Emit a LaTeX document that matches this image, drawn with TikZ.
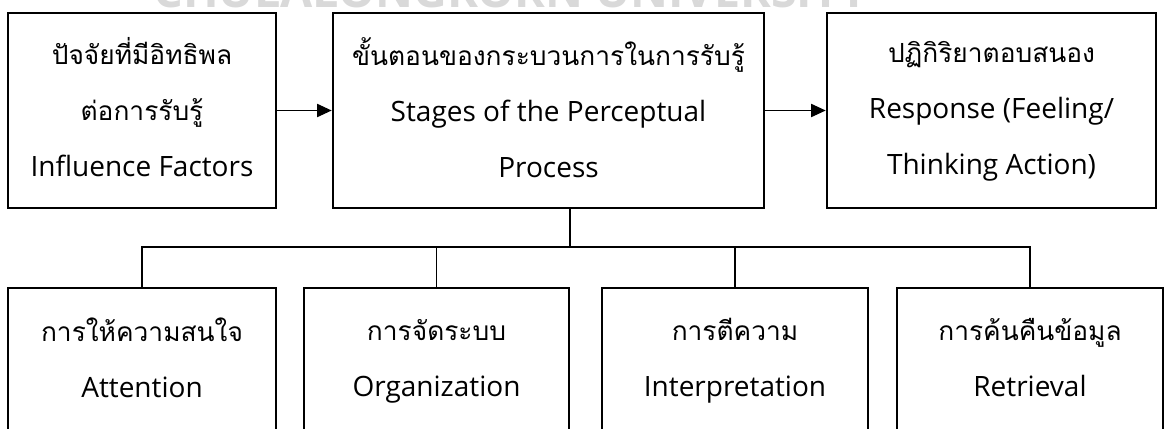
\documentclass[tikz,border=0pt]{standalone}
\usepackage{fontspec}
\setmainfont{Open Sans}
\newfontfamily\thaifont[Script=Thai,Scale=0.94]{Loma}
\usetikzlibrary{arrows.meta}
\newcommand{\thl}[1]{{\thaifont\vphantom{ฟู้}#1}}

\tikzset{
  box/.style={draw, line width=2pt, align=center, inner sep=2pt,
    font=\fontsize{21}{42}\selectfont, execute at end node={\vphantom{gp}}},
  link/.style={line width=0.9pt},
  tip/.style={-{Triangle[length=11pt,width=10pt]}}
}

\begin{document}
\begin{tikzpicture}[x=0.75pt,y=-0.75pt]
\useasboundingbox (0,0) rectangle (1166,428);
\clip (0,0) rectangle (1166,428);
% watermark, cut at the top
\node [anchor=base, text=gray!30, font=\bfseries\fontsize{35}{35}\selectfont] (mark) at (511,8) {CHULALONGKORN UNIVERSITY};
% top row
\node [box, minimum width=201pt, minimum height=146.25pt] (infl) at (142,110.5) {\thl{ปัจจัยที่มีอิทธิพล}\\\thl{ต่อการรับรู้}\\Influence Factors};
\node [box, minimum width=323.25pt, minimum height=146.25pt] (stage) at (548.5,110.5) {\thl{ขั้นตอนของกระบวนการในการรับรู้}\\Stages of the Perceptual\\Process};
\node [box, minimum width=246.75pt, minimum height=146.25pt] (resp) at (991.5,110.5) {\thl{ปฏิกิริยาตอบสนอง}\\Response (Feeling/\\Thinking Action)};
% bottom row
\node [box, minimum width=201pt, minimum height=109.5pt] (attn) at (142,361) {\thl{การให้ความสนใจ}\\Attention};
\node [box, minimum width=198.75pt, minimum height=109.5pt] (org) at (436.5,361) {\thl{การจัดระบบ}\\Organization};
\node [box, minimum width=199.5pt, minimum height=109.5pt] (interp) at (735,361) {\thl{การตีความ}\\Interpretation};
\node [box, minimum width=199.5pt, minimum height=109.5pt] (retr) at (1030,361) {\thl{การค้นคืนข้อมูล}\\Retrieval};
% arrows
\draw [link, tip] (infl) -- (stage);
\draw [link, tip] (stage) -- (resp);
% tree
\coordinate (bus) at (570,247);
\draw [link] (bus |- stage.south) -- (bus);
\draw [link] (attn.north) -- (attn.north |- bus) -- (retr.north |- bus) -- (retr.north);
\foreach \n in {org,interp}
  \draw [link] (\n.north) -- (\n.north |- bus);
\end{tikzpicture}
\end{document}
